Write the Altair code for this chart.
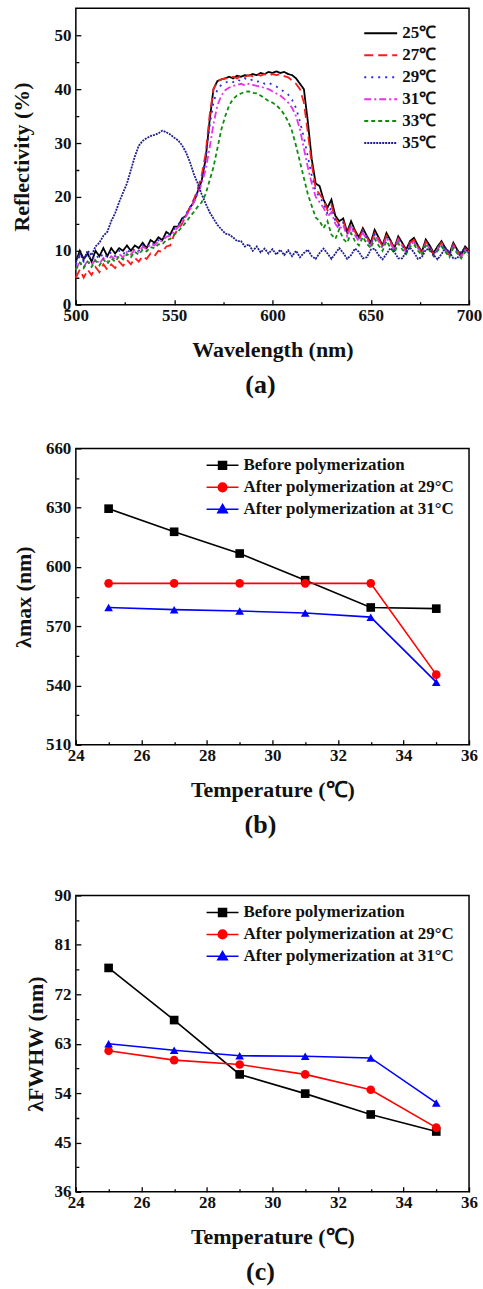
import altair as alt
import pandas as pd

FONT = "Liberation Serif"

# ---------------- Panel (a): reflectivity spectra ----------------
wavelength = list(range(500, 701, 2))

r25 = [8, 10, 8.5, 9.5, 8, 10, 9, 10.5, 9, 10.5,
       9.5, 10.5, 10, 11, 10, 11, 10.5, 11.5, 10.5, 12,
       11.5, 12.5, 12, 13.5, 13, 14.5, 14.5, 16, 16.5, 18,
       19, 21, 23, 27, 34, 40, 41.5, 41.8, 42, 42.3,
       42, 42.5, 42.3, 42.6, 42.5, 42.8, 42.6, 43, 42.8, 43.2,
       43, 43.3, 43, 43.2, 42.8, 42.6, 42, 41, 40, 34,
       27, 22.5, 22, 19.5, 18, 19.5, 16.5, 15.5, 16, 13.5,
       15.5, 13.8, 12.5, 14.2, 12.8, 11.5, 13.9, 12.5, 11, 13.3,
       12, 10.5, 12.7, 11.5, 10.2, 11.8, 12.4, 11, 9.8, 12.1,
       11, 9.6, 10.8, 11.8, 10.5, 9.4, 11.5, 10.2, 9.2, 10.8,
       10]
r27 = [5, 6.5, 5, 6.5, 5.5, 7, 6, 7.5, 6.5, 7.5,
       6.8, 8, 7.2, 8.3, 7.5, 8.7, 8, 9, 8.5, 9.5,
       9, 10, 9.8, 10.8, 11, 13, 14, 15, 16.5, 18,
       19.5, 21.5, 24, 28, 35, 40, 41.5, 41.8, 42, 42,
       42.3, 42, 42.5, 42.3, 42.6, 42.4, 42.7, 42.5, 42.8, 42.5,
       42.8, 42.6, 42.8, 42.4, 42.2, 41.6, 41, 40, 37.5, 32,
       26, 21.5, 20.5, 19.5, 17.5, 18.5, 16, 14.8, 15.6, 13.2,
       15, 13.5, 12.2, 13.8, 12.5, 11.2, 13.3, 12.2, 10.8, 12.8,
       11.8, 10.3, 12.3, 11.2, 10, 11.5, 12, 10.8, 9.6, 11.7,
       10.7, 9.4, 10.5, 11.5, 10.3, 9.2, 11.2, 10, 9, 10.5,
       9.8]
r29 = [7.5, 9, 8, 9.5, 8.2, 9.3, 8.5, 9.6, 8.8, 9.8,
       9, 10, 9.3, 10.2, 9.6, 10.5, 10, 11, 10.5, 11.5,
       11.2, 12, 12, 13, 13.2, 14, 14.8, 15.8, 16.8, 18,
       19.5, 21, 23, 27, 33, 37.5, 40, 40.8, 41.2, 41.5,
       41.3, 41.8, 41.5, 42, 41.6, 41.8, 41.4, 41.5, 41, 41.2,
       40.8, 40.5, 40, 39.5, 39, 38, 36.5, 34, 31, 27.5,
       24, 21, 20, 18.8, 16.8, 18, 15.5, 14.5, 15.2, 13,
       14.8, 13.2, 12, 13.6, 12.3, 11, 13, 12, 10.6, 12.6,
       11.6, 10.2, 12.2, 11, 9.8, 11.3, 11.8, 10.6, 9.5, 11.5,
       10.5, 9.3, 10.4, 11.3, 10.2, 9.1, 11, 9.9, 8.9, 10.3,
       9.6]
r31 = [6.5, 8, 7, 8.2, 7.3, 8.5, 7.6, 8.7, 8, 9,
       8.4, 9.4, 8.8, 9.8, 9.3, 10.2, 9.8, 10.7, 10.4, 11.2,
       11, 11.8, 11.8, 12.6, 12.8, 13.6, 14.4, 15.3, 16.4, 17.6,
       19, 20.5, 22.5, 25, 29, 33.5, 37, 38.8, 39.8, 40.3,
       40.6, 40.8, 41, 40.7, 41, 40.8, 40.6, 40.5, 40.2, 40,
       39.6, 39.2, 38.8, 38.2, 37.5, 36.5, 35, 32.5, 29, 25.5,
       22.5, 20, 19, 18, 16.3, 17.2, 15, 14, 14.8, 12.7,
       14.4, 12.9, 11.8, 13.3, 12.1, 10.9, 12.8, 11.8, 10.5, 12.4,
       11.4, 10.1, 12, 10.9, 9.7, 11.1, 11.6, 10.5, 9.4, 11.3,
       10.4, 9.2, 10.3, 11.2, 10.1, 9, 10.8, 9.8, 8.8, 10.2,
       9.5]
r33 = [6.5, 7.8, 6.8, 8, 7, 8.2, 7.3, 8.4, 7.6, 8.6,
       8, 9, 8.4, 9.4, 8.8, 9.8, 9.3, 10.2, 9.9, 10.7,
       10.5, 11.2, 11.2, 12, 12.2, 13, 13.6, 14.4, 15.3, 16.3,
       17.2, 18.2, 19, 20.5, 23, 25.5, 29, 32.5, 35, 37,
       38.2, 38.8, 39.2, 39.5, 39.6, 39.3, 39.2, 38.8, 38.3, 37.8,
       37.5, 37, 36.3, 35.3, 34, 32.2, 29.5, 26.5, 23.5, 20.5,
       18.3, 16.2, 15.5, 14.2, 15.5, 13, 12.2, 14, 12.2, 11.5,
       13.3, 11.8, 11, 12.6, 11.3, 10.5, 12.2, 11, 10, 11.8,
       10.6, 9.6, 11.4, 10.3, 9.4, 10.8, 11.2, 10, 9.2, 11,
       10, 9, 10, 10.8, 9.8, 8.8, 10.5, 9.5, 8.6, 9.8,
       9]
r35 = [8, 9.5, 8.3, 10, 9.2, 10.8, 11.5, 12.8, 13.5, 15.5,
       17, 19, 20.8, 22.5, 25, 27.5, 29.5, 30.4, 30.9, 31.3,
       31.5, 31.8, 32.3, 32, 31.6, 31, 30.5, 29.6, 28.3, 26.5,
       24.3, 22.5, 20.5, 18.8, 17.2, 16, 14.8, 14, 13.2, 13,
       12.5, 11.8, 11.8, 10.8, 11.2, 10, 10.8, 9.7, 10.4, 9.5,
       10.3, 9.3, 10.2, 9.2, 10.1, 9, 10, 8.8, 9.6, 10.2,
       9, 8.5, 9.6, 10.4, 9.5, 8.5, 9.5, 10.5, 9.6, 8.5,
       9.2, 10.4, 9.8, 8.6, 8.8, 10.2, 10.4, 9.2, 8.4, 9.4,
       10.5, 9.8, 8.6, 8.6, 9.8, 10.6, 9.7, 8.5, 8.8, 10.2,
       10.4, 9.2, 8.4, 9.4, 10.5, 9.8, 8.6, 8.6, 9.8, 10.5,
       9.5]

series_a = ["25℃", "27℃", "29℃", "31℃", "33℃", "35℃"]
colors_a = ["#000000", "#ff1a1a", "#2a2ae8", "#e633e6", "#108c10", "#1f1f8f"]
dashes_a = [[1, 0], [9, 5], [2, 5], [7, 3, 2, 3], [4, 3], [2, 1]]

rows = []
for name, vals in zip(series_a, [r25, r27, r29, r31, r33, r35]):
    assert len(vals) == len(wavelength), (name, len(vals))
    for w, v in zip(wavelength, vals):
        rows.append({"wl": w, "R": v, "s": name})
df_a = pd.DataFrame(rows)

# ---------------- Panels (b) and (c) ----------------
temperature = [25, 27, 29, 31, 33, 35]
series_bc = ["Before polymerization", "After polymerization at 29°C", "After polymerization at 31°C"]
colors_bc = ["#000000", "#ff0000", "#0000ff"]

lmax_before = [629.5, 617.8, 606.8, 593.3, 579.5, 578.9]
lmax_after29 = [591.7, 591.7, 591.7, 591.7, 591.7, 545.5]
lmax_after31 = [579.5, 578.4, 577.7, 576.7, 574.6, 541.7]

fwhm_before = [76.8, 67.3, 57.4, 53.9, 50.1, 47.0]
fwhm_after29 = [61.7, 60.0, 59.2, 57.4, 54.6, 47.7]
fwhm_after31 = [63.0, 61.8, 60.8, 60.7, 60.4, 52.2]


def long_df(lists):
    out = []
    for name, vals in zip(series_bc, lists):
        for t, v in zip(temperature, vals):
            out.append({"T": t, "v": v, "s": name})
    return pd.DataFrame(out)


df_b = long_df([lmax_before, lmax_after29, lmax_after31])
df_c = long_df([fwhm_before, fwhm_after29, fwhm_after31])

W, H = 394, 297


def axis(values, minor_test, title, title_pad, label_pad):
    return alt.Axis(
        values=values,
        title=title,
        titlePadding=title_pad,
        labelPadding=label_pad,
        labelExpr=f"({minor_test}) ? '' : datum.label",
        tickDash={"condition": {"test": minor_test, "value": [0, 2, 3, 40]}, "value": [40, 0]},
        domain=False,
        offset=-5,
        tickSize=5,
        tickColor="black",
        tickWidth=1.3,
        grid=False,
        labelFont=FONT,
        labelFontSize=17,
        labelFontWeight="bold",
        labelColor="#111111",
        titleFont=FONT,
        titleFontSize=22,
        titleFontWeight="bold",
        titleColor="#111111",
        labelOverlap=False,
        labelFlush=False,
    )


def tag(text, extra=0):
    kw = {}
    if extra:
        kw = dict(subtitle=" ", subtitleFontSize=extra, subtitlePadding=0, subtitleLineHeight=extra)
    return alt.TitleParams(text, orient="bottom", anchor="middle", frame="group",
                           font=FONT, fontSize=26, fontWeight="bold", color="#111111",
                           offset=11, dx=-12, **kw)


def legend(x, y, **kw):
    return alt.Legend(
        orient="none", legendX=x, legendY=y, title=None, labelFont=FONT, labelFontSize=17,
        labelFontWeight="bold", labelColor="#111111", clipHeight=22, rowPadding=0,
        labelOffset=4, labelLimit=0, symbolOpacity=1, **kw,
    )


leg_a = legend(288, 14, symbolType="stroke", symbolSize=1089, symbolStrokeWidth=2)

chart_a = alt.Chart(df_a).mark_line(strokeWidth=1.8).encode(
    x=alt.X("wl:Q", scale=alt.Scale(domain=[500, 700], nice=False),
            axis=axis(list(range(500, 701, 25)), "datum.value % 50 != 0", "Wavelength (nm)", 16, 3)),
    y=alt.Y("R:Q", scale=alt.Scale(domain=[0, 55], nice=False),
            axis=axis(list(range(0, 51, 5)), "datum.value % 10 != 0", "Reflectivity (%)", 20, 5)),
    color=alt.Color("s:N", scale=alt.Scale(domain=series_a, range=colors_a), legend=leg_a),
    strokeDash=alt.StrokeDash("s:N", scale=alt.Scale(domain=series_a, range=dashes_a), legend=leg_a),
).properties(width=W, height=H, title=tag("(a)"))

shape_paths = [
    "M-1,0H1M-0.25,-0.25H0.25V0.25H-0.25Z",
    "M-1,0H1M-0.27,0A0.27,0.27,0,1,0,0.27,0A0.27,0.27,0,1,0,-0.27,0Z",
    "M-1,0H1M0,-0.3L0.3,0.22L-0.3,0.22Z",
]
marker_shapes = ["square", "circle", "triangle-up"]


def panel(df, ydomain, yvalues, ytest, ytitle, ytp, title):
    xenc = alt.X("T:Q", scale=alt.Scale(domain=[24, 36], nice=False),
                 axis=axis(list(range(24, 37)), "datum.value % 2 != 0", "Temperature (℃)", 16, 3))
    yenc = alt.Y("v:Q", scale=alt.Scale(domain=ydomain, nice=False),
                 axis=axis(yvalues, ytest, ytitle, ytp, 5))
    cscale = alt.Scale(domain=series_bc, range=colors_bc)
    base = alt.Chart(df)
    lg = legend(130, 6, symbolSize=1024, symbolStrokeWidth=1.5)
    # invisible layer that only carries the legend (line + marker symbols)
    leg = base.mark_point(filled=True, opacity=0, size=1).encode(
        x=xenc, y=yenc,
        color=alt.Color("s:N", scale=cscale, legend=lg),
        stroke=alt.Stroke("s:N", scale=alt.Scale(domain=series_bc, range=colors_bc), legend=lg),
        shape=alt.Shape("s:N", scale=alt.Scale(domain=series_bc, range=shape_paths), legend=lg),
    )
    lines = base.mark_line(strokeWidth=1.6).encode(
        x=xenc, y=yenc, color=alt.Color("s:N", scale=cscale, legend=None))
    layers = [leg, lines]
    for name, shp in zip(series_bc, marker_shapes):
        layers.append(
            base.transform_filter(alt.datum.s == name).mark_point(
                shape=shp, filled=True, size=75, opacity=1).encode(
                x=xenc, y=yenc, color=alt.Color("s:N", scale=cscale, legend=None)))
    return alt.layer(*layers).properties(width=W, height=H, title=title)


chart_b = panel(df_b, [510, 660], list(range(510, 661, 15)), "(datum.value - 510) % 30 != 0",
                "λmax (nm)", 10, tag("(b)", extra=7))
chart_c = panel(df_c, [36, 90], [36 + 4.5 * k for k in range(13)], "(datum.value - 36) % 9 != 0",
                "λFWHW (nm)", 6, tag("(c)"))

indep = dict(color="independent", strokeDash="independent", stroke="independent",
             shape="independent", x="independent", y="independent")

chart = alt.vconcat(chart_a, chart_b, chart_c, spacing=40).resolve_scale(**indep).properties(
    padding={"left": 10, "top": 6, "right": 0, "bottom": 0},
    background="white",
).configure_view(stroke="black", strokeWidth=1.5)

chart.save("out.html", embed_options={"renderer": "svg", "actions": False})
